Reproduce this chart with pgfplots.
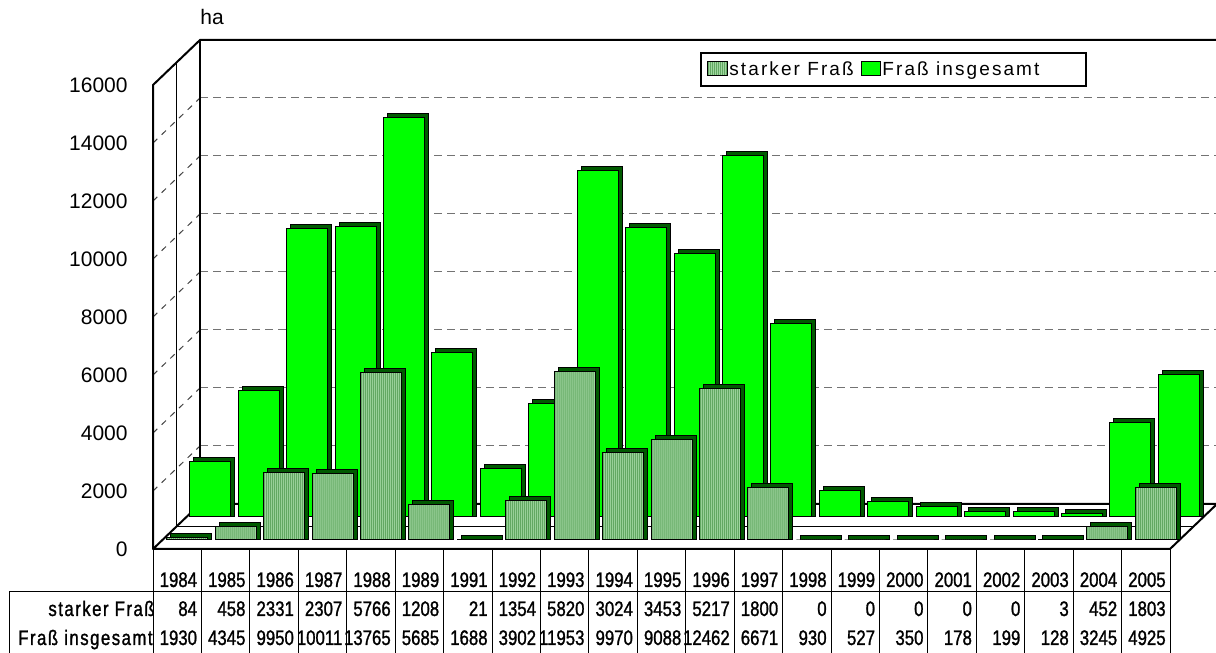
\documentclass[border=0pt]{standalone}
\usepackage{pgfplots}
\pgfplotsset{compat=1.18}
\usepackage{pgfplotstable}
\usepackage{fontspec}
\setmainfont{Liberation Sans}
\newfontfamily\narrow{Liberation Sans}[FakeStretch=0.8,FakeBold=1.2]
\newfontfamily\narrowsp{Liberation Sans}[FakeStretch=0.8,FakeBold=1.2,LetterSpace=7]
\newfontfamily\legfont{Liberation Sans}[LetterSpace=11]

\definecolor{brightgreen}{RGB}{0,255,0}
\definecolor{lipgreen}{RGB}{0,90,0}
\definecolor{hatchbase}{RGB}{160,214,160}
\definecolor{hatchline}{RGB}{98,168,98}

\pgfplotstableread{
idx year stark ges
0 1984 84 1930
1 1985 458 4345
2 1986 2331 9950
3 1987 2307 10011
4 1988 5766 13765
5 1989 1208 5685
6 1991 21 1688
7 1992 1354 3902
8 1993 5820 11953
9 1994 3024 9970
10 1995 3453 9088
11 1996 5217 12462
12 1997 1800 6671
13 1998 0 930
14 1999 0 527
15 2000 0 350
16 2001 0 178
17 2002 0 199
18 2003 3 128
19 2004 452 3245
20 2005 1803 4925
}\data

\pgfplotsset{
  barax/.style={scale only axis, width=508.5pt, height=232pt,
    xmin=-0.5, xmax=20.5, ymin=0, ymax=16000, hide axis, clip=false,
    anchor=south west},
}

\begin{document}
\begin{tikzpicture}
\path[use as bounding box] (0,0) rectangle (608pt,326.5pt);
% ---- walls and floor ----
\begin{scope}[x=0.5pt,y=-0.5pt,shift={(0pt,326.5pt)}]
  \foreach \k in {1,...,7}{
    \draw[black!55, line width=0.5pt, dash pattern=on 4pt off 2.5pt]
      (200,{504-58*\k}) -- (1217,{504-58*\k});
    \draw[black!75, line width=0.5pt, dash pattern=on 3pt off 3pt]
      (153,{549-58*\k}) -- (200,{504-58*\k});
  }
  \draw[line width=1pt] (153,549) -- (153,85) -- (200,40) -- (1217,40);
  \draw[line width=1pt] (200,40) -- (200,504);
  \draw[line width=0.6pt] (176.5,62.5) -- (176.5,526.5) -- (1193.5,526.5);
  \draw[line width=1pt, line join=round] (153,549) -- (1170,549) -- (1217,504) -- (200,504) -- cycle;
\end{scope}

% ---- back row: Fraß insgesamt ----
\begin{axis}[barax, at={(95pt,68pt)}]
  \addplot[ybar, bar width=20.5pt, bar shift=0pt, fill=lipgreen, draw=black, line width=0.5pt]
    table[x=idx, y expr=\thisrow{ges}+138]{\data};
\end{axis}
\begin{axis}[barax, at={(93pt,68pt)}]
  \addplot[ybar, bar width=20.5pt, bar shift=0pt, fill=brightgreen, draw=black, line width=0.5pt]
    table[x=idx, y=ges]{\data};
\end{axis}

% ---- front row: starker Fraß ----
\begin{axis}[barax, at={(83.5pt,56.5pt)}]
  \addplot[ybar, bar width=20.5pt, bar shift=0pt, fill=lipgreen, draw=black, line width=0.5pt]
    table[x=idx, y expr=\thisrow{stark}+138]{\data};
\end{axis}
\begin{axis}[barax, at={(81.5pt,56.5pt)}]
  \addplot[ybar, bar width=20.5pt, bar shift=0pt, fill=hatchbase, draw=none]
    table[x=idx, y=stark]{\data};
  \pgfplotsinvokeforeach{-9.75,-8.75,...,9.3}{
    \addplot[ybar, bar width=0.5pt, bar shift=#1pt, fill=hatchline, draw=none]
      table[x=idx, y=stark]{\data};
  }
  \addplot[ybar, bar width=20.5pt, bar shift=0pt, fill=none, draw=black, line width=0.5pt]
    table[x=idx, y=stark]{\data};
\end{axis}

% ---- value axis labels ----
\begin{axis}[scale only axis, width=508.5pt, height=232pt, at={(76.5pt,52pt)}, anchor=south west,
  xmin=-0.5, xmax=20.5, ymin=0, ymax=16000,
  axis line style={draw=none}, xtick=\empty, ytick={0,2000,4000,6000,8000,10000,12000,14000,16000},
  major tick length=0pt, ytick pos=left,
  yticklabel style={anchor=east, inner sep=0pt, xshift=-12.5pt, font=\fontsize{10.5}{12}\selectfont},
  scaled y ticks=false, /pgf/number format/1000 sep={}, /pgf/number format/assume math mode=true]
  \addplot[draw=none] coordinates {(0,0)};
\end{axis}

% ---- data table, legend, unit ----
\begin{scope}[x=0.5pt,y=-0.5pt,shift={(0pt,326.5pt)}]
  \draw[line width=0.5pt] (9,592) -- (1170,592);
  \draw[line width=0.5pt] (9,592) -- (9,653);
  \foreach \i in {0,...,21}{
    \draw[line width=0.5pt] ({153+48.43*\i},549) -- ({153+48.43*\i},653);
  }
  \foreach \i in {0,...,20}{
    \pgfplotstablegetelem{\i}{year}\of\data \edef\yr{\pgfplotsretval}
    \pgfplotstablegetelem{\i}{stark}\of\data \edef\st{\pgfplotsretval}
    \pgfplotstablegetelem{\i}{ges}\of\data \edef\gs{\pgfplotsretval}
    \node[anchor=base east, inner sep=0pt, font=\narrow\fontsize{10.5}{12}\selectfont]
      at ({153+48.43*(\i+1)-4},587) {\yr};
    \node[anchor=base east, inner sep=0pt, font=\narrow\fontsize{10.5}{12}\selectfont]
      at ({153+48.43*(\i+1)-4},616) {\st};
    \node[anchor=base east, inner sep=0pt, font=\narrow\fontsize{10.5}{12}\selectfont]
      at ({153+48.43*(\i+1)-4},645) {\gs};
  }
  \node[anchor=base east, inner sep=0pt, font=\narrowsp\fontsize{10.5}{12}\selectfont] at (155,616) {starker Fraß};
  \node[anchor=base east, inner sep=0pt, font=\narrowsp\fontsize{10.5}{12}\selectfont] at (153,645) {Fraß insgesamt};

  \draw[fill=white, line width=0.6pt] (701,53) rectangle (1086,86);
  \fill[hatchbase] (707,62) rectangle (727,76);
  \foreach \s in {708,710,...,726}{ \fill[hatchline] (\s,62) rectangle (\s+1,76); }
  \draw[line width=0.5pt] (707,62) rectangle (727,76);
  \draw[fill=brightgreen, line width=0.5pt] (861,62) rectangle (880,76);
  \node[anchor=base west, inner sep=0pt, font=\legfont\fontsize{9.5}{11}\selectfont] at (729,76) {starker Fraß};
  \node[anchor=base west, inner sep=0pt, font=\legfont\fontsize{9.5}{11}\selectfont] at (882,76) {Fraß insgesamt};

  \node[anchor=base west, inner sep=0pt, font=\fontsize{10.5}{12}\selectfont] at (200,25) {ha};
\end{scope}
\end{tikzpicture}
\end{document}
